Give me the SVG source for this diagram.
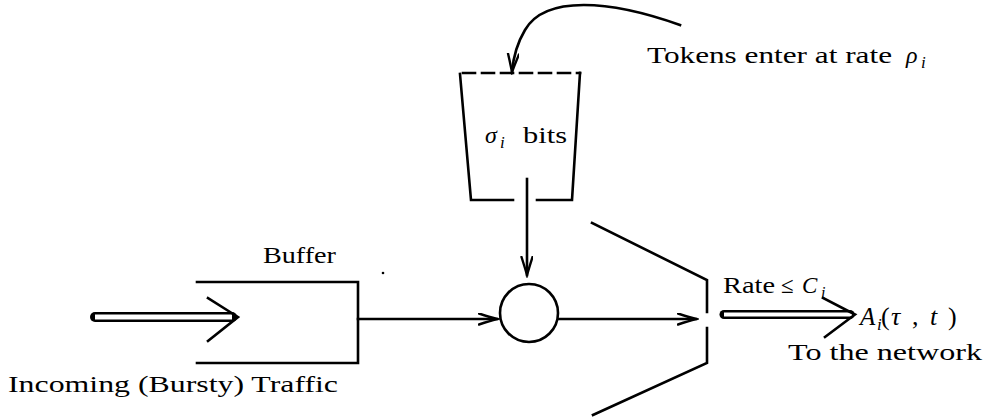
<svg xmlns="http://www.w3.org/2000/svg" width="987" height="420" viewBox="0 0 987 420">
<style>
.ln{fill:none;stroke:#000;stroke-width:2.6;stroke-linecap:square}
.dbl{fill:none;stroke:#000;stroke-width:10;stroke-linecap:round}
.dblw{fill:none;stroke:#fff;stroke-width:5;stroke-linecap:butt}
</style>
<defs>
<marker id="ah" markerUnits="userSpaceOnUse" markerWidth="22" markerHeight="14" refX="19" refY="6" orient="auto" viewBox="0 0 22 14">
<path d="M1,0.5 Q12,4 19,6 Q12,8 1,11.5" fill="none" stroke="#000" stroke-width="2.4" stroke-linecap="round"/>
</marker>
</defs>
<rect width="987" height="420" fill="#fff"/>

<g id="bucket">
<line class="ln" x1="463" y1="73" x2="580" y2="73" stroke-dasharray="12 7" stroke-linecap="butt"/>
<polyline class="ln" points="460,74 471,200 513,200"/>
<polyline class="ln" points="580,73 572,200 537,200"/>
</g>

<g id="buffer">
<polyline class="ln" points="197,282 358,282 358,363 197,363"/>
</g>

<g id="combiner">
<circle cx="529" cy="313" r="29" fill="none" stroke="#000" stroke-width="2.6"/>
</g>

<g id="gate">
<polyline class="ln" points="592,223 707,280 707,312"/>
<polyline class="ln" points="707,328 707,363 593,415"/>
</g>

<g id="connectors">
<path class="ln" d="M680,25 C610,0 545,-5 525,30 C516,45 513,60 512,72" stroke-linecap="round" marker-end="url(#ah)"/>
<line class="ln" x1="527" y1="179" x2="527" y2="275" stroke-linecap="butt" marker-end="url(#ah)"/>
<line class="ln" x1="358" y1="319" x2="497" y2="319" stroke-linecap="butt" marker-end="url(#ah)"/>
<line class="ln" x1="559" y1="319" x2="696" y2="319" stroke-linecap="butt" marker-end="url(#ah)"/>
<line class="dbl" x1="95" y1="317" x2="232" y2="317"/>
<line class="dblw" x1="95" y1="317" x2="232" y2="317"/>
<polyline class="ln" points="208,298 238,317 208,341" stroke-linecap="round"/>
<line class="dbl" x1="724" y1="314.5" x2="850" y2="314.5" style="stroke-width:9"/>
<line class="dblw" x1="724" y1="314.5" x2="852" y2="314.5" style="stroke-width:4"/>
<polyline class="ln" points="823,298 855,314.5 825,337" stroke-linecap="round"/>
</g>

<circle cx="383" cy="273" r="1.3" fill="#000"/>

<g id="labels" font-family="'Liberation Serif', 'Times New Roman', serif" font-size="24" fill="#000">
<text x="647" y="63" textLength="245" lengthAdjust="spacingAndGlyphs">Tokens enter at rate</text>
<text x="906" y="63" font-style="italic">ρ</text>
<text x="921" y="68" font-size="17" font-style="italic">i</text>

<text x="485" y="143" font-style="italic">σ</text>
<text x="500" y="148" font-size="17" font-style="italic">i</text>
<text x="523" y="143" textLength="44" lengthAdjust="spacingAndGlyphs">bits</text>

<text x="263" y="263" textLength="73" lengthAdjust="spacingAndGlyphs">Buffer</text>
<text x="8" y="392" textLength="330" lengthAdjust="spacingAndGlyphs">Incoming (Bursty) Traffic</text>

<text x="723" y="293" font-size="23" textLength="52" lengthAdjust="spacingAndGlyphs">Rate</text>
<text x="781" y="293" font-size="23">≤</text>
<text x="802" y="293" font-size="23" font-style="italic">C</text>
<text x="821" y="298" font-size="16" font-style="italic">i</text>

<text x="860" y="325" font-size="25" font-style="italic">A</text>
<text x="877" y="330" font-size="17" font-style="italic">i</text>
<text y="325" font-size="26"><tspan x="881">(</tspan><tspan x="891" font-style="italic">τ</tspan><tspan x="912">,</tspan><tspan x="930" font-style="italic">t</tspan><tspan x="948">)</tspan></text>

<text x="788" y="360" textLength="194" lengthAdjust="spacingAndGlyphs">To the network</text>
</g>
</svg>
